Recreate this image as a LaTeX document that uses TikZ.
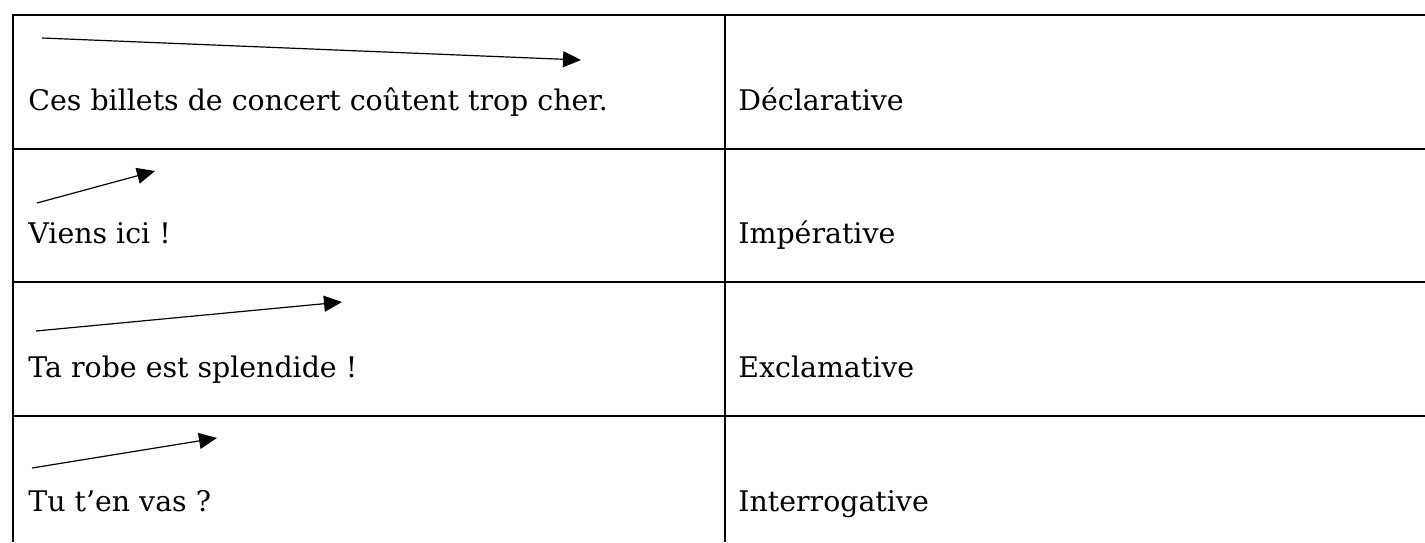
\documentclass[tikz,border=0pt]{standalone}
\usepackage{fontspec}
\setmainfont{DejaVu Serif}
\usetikzlibrary{arrows.meta}
\begin{document}
\begin{tikzpicture}[x=0.5pt, y=-0.5pt,
    rule/.style={line width=1pt},
    sentence/.style={anchor=base west, inner sep=0pt, font=\fontsize{14.2}{17}\selectfont},
    melody/.style={line width=0.6pt, -{Triangle[length=9pt, width=8pt]}}]
    \useasboundingbox (0,0) rectangle (1425,542);
    \draw[rule] (1425,15) -- (13,15) -- (13,542);
    \draw[rule] (725,15) -- (725,542);
    \foreach \y in {149,282,416}
        \draw[rule] (13,\y) -- (1425,\y);
    \node[sentence] (s1) at (28,110) {Ces billets de concert coûtent trop cher.};
    \node[sentence] (s2) at (28,243) {Viens ici !};
    \node[sentence] (s3) at (28,377) {Ta robe est splendide !};
    \node[sentence] (s4) at (28,511) {Tu t’en vas ?};
    \node[sentence] (k1) at (738,110) {Déclarative};
    \node[sentence] (k2) at (738,243) {Impérative};
    \node[sentence] (k3) at (738,377) {Exclamative};
    \node[sentence] (k4) at (738,511) {Interrogative};
    \coordinate (a1) at (42,38);  \coordinate (b1) at (581,60);
    \coordinate (a2) at (37,203); \coordinate (b2) at (155,171);
    \coordinate (a3) at (36,331); \coordinate (b3) at (342,302);
    \coordinate (a4) at (32,468); \coordinate (b4) at (217,438);
    \foreach \i in {1,...,4}
        \draw[melody] (a\i) -- (b\i);
\end{tikzpicture}
\end{document}
